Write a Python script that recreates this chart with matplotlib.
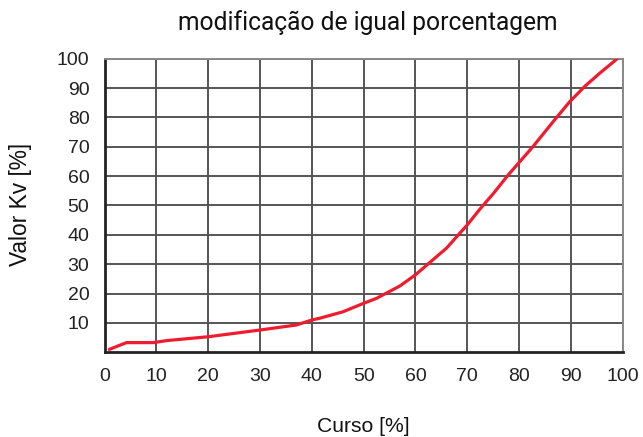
import matplotlib
matplotlib.use("Agg")
import matplotlib.pyplot as plt

curso = [0.9, 4.2, 9.4, 12, 20, 30, 37, 40, 41.5, 46, 50, 52.5, 57, 60, 66, 70, 72.5, 75, 77.9, 82.7, 86.6, 89.8, 92.7, 95.6, 99.1]
valor = [1.0, 3.3, 3.3, 4.0, 5.3, 7.6, 9.3, 11.0, 11.6, 13.8, 16.7, 18.4, 22.6, 26.4, 35.5, 43.4, 48.9, 54.0, 60.4, 70.1, 78.6, 85.4, 90.6, 95.1, 100.2]
xticks = list(range(0, 101, 10))
yticks = list(range(10, 101, 10))

W, H = 643, 437
fig = plt.figure(figsize=(W / 100, H / 100), dpi=100)
ax = fig.add_axes([0.1628, 0.1938, 0.8056, 0.6719])
ax.plot(curso, valor, color="#ee1c2e", lw=2.3, solid_joinstyle="round", solid_capstyle="round", zorder=3)
ax.set_xlim(0, 100)
ax.set_ylim(0, 100)
ax.set_xticks(xticks)
ax.set_yticks(yticks)
ax.set_xticklabels([str(t) for t in xticks], family="Liberation Sans", fontsize=14, color="#222222")
ax.set_yticklabels([str(t) for t in yticks], family="Liberation Sans", fontsize=14, color="#222222")
ax.tick_params(axis="x", length=0, pad=11)
ax.tick_params(axis="y", length=0, pad=11)
ax.grid(True, color="#555555", lw=1.4)
ax.set_axisbelow(True)
for s in ["top", "right"]:
    ax.spines[s].set_color("#888888")
    ax.spines[s].set_linewidth(1.4)
for s in ["left", "bottom"]:
    ax.spines[s].set_color("#222222")
    ax.spines[s].set_linewidth(2.0)
fig.text(368 / W, 1 - 23 / H, "modificação de igual porcentagem", family="Roboto", fontsize=17.7,
         ha="center", va="center", color="#111111")
fig.text(363.7 / W, 1 - 426 / H, "Curso [%]", family="Liberation Sans", fontsize=15.2,
         ha="center", va="center", color="#111111")
fig.text(21 / W, 1 - 204 / H, "Valor Kv [%]", family="Liberation Sans", fontsize=16.4,
         ha="center", va="center", rotation=90, color="#111111")
fig.savefig("out.png", dpi=100)
